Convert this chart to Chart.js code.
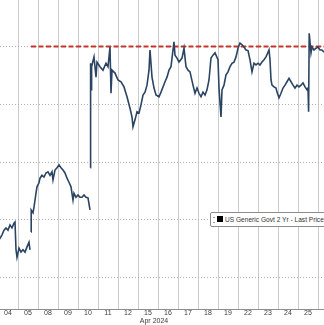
<!DOCTYPE html>
<html>
<head>
<meta charset="utf-8">
<script src="https://cdn.jsdelivr.net/npm/chart.js@4.4.1/dist/chart.umd.min.js"></script>
<style>
  html, body { margin: 0; padding: 0; background: #fff; }
  #wrap { position: relative; width: 324px; height: 325px; overflow: hidden; }
  #legend {
    position: absolute; left: 210px; top: 212px; width: 130px; height: 13px;
    border: 1px solid #8c8c8c; border-radius: 2px; background: #fff;
    font: 6.6px "Liberation Sans", Arial, sans-serif; color: #333;
    line-height: 13px; white-space: nowrap;
  }
  #legend .ico { display: inline-block; width: 2px; height: 4px; margin: 0 2px 0 2px;
    border-top: 1px solid #999; border-bottom: 1px solid #999; vertical-align: middle; }
  #legend .sq { display: inline-block; width: 6px; height: 6px; background: #000;
    margin-right: 2px; vertical-align: middle; position: relative; top: -1px; }
</style>
</head>
<body>
<div id="wrap">
  <canvas id="chart" width="324" height="325"></canvas>
  <div id="legend"><span class="ico"></span><span class="sq"></span>US Generic Govt 2 Yr - Last Price</div>
</div>
<script>
// trading days shown on the axis (April 2024)
var days = ["04", "05", "08", "09", "10", "11", "12", "15", "16", "17", "18", "19", "22", "23", "24", "25", "26"];
var monthLabel = "Apr 2024";

// time in trading days from the start of the 04 session, yield in %
var times = [
  0.05, 0.10, 0.20, 0.30, 0.40, 0.50, 0.60, 0.70, 0.80, 0.85, 0.90, 0.95,
  1.05, 1.15, 1.25, 1.35, 1.45, 1.55, 1.60, 1.62,
  1.65, 1.66, 1.75, 1.80, 1.90, 1.95, 2.05, 2.10, 2.20, 2.30, 2.40, 2.50,
  2.60, 2.70, 2.75, 2.85, 2.95, 3.05, 3.15, 3.25, 3.35, 3.45, 3.55, 3.65,
  3.75, 3.80, 3.90, 4.00, 4.10, 4.20, 4.30, 4.40, 4.50, 4.60, 4.61,
  4.62, 4.63, 4.65, 4.68, 4.80, 4.90, 4.95, 5.10, 5.25, 5.40, 5.50, 5.60,
  5.65, 5.70, 5.85, 6.00, 6.15, 6.30, 6.45, 6.60, 6.70, 6.75, 6.85, 6.95,
  7.05, 7.15, 7.25, 7.35, 7.45, 7.55, 7.60, 7.70, 7.80, 7.90, 8.05, 8.15,
  8.25, 8.35, 8.45, 8.55, 8.65, 8.75, 8.80, 8.85, 8.95, 9.05, 9.20, 9.30,
  9.40, 9.50, 9.60, 9.75, 9.85, 9.95, 10.05, 10.15, 10.25, 10.35, 10.45,
  10.55, 10.65, 10.75, 10.85, 10.90, 11.00, 11.05, 11.15, 11.20, 11.30,
  11.40, 11.50, 11.60, 11.70, 11.80, 11.90, 12.00, 12.10, 12.20, 12.30,
  12.40, 12.50, 12.60, 12.70, 12.80, 12.90, 13.00, 13.10, 13.20, 13.30,
  13.40, 13.50, 13.55, 13.60, 13.65, 13.70, 13.80, 13.90, 13.95, 14.05,
  14.15, 14.25, 14.35, 14.45, 14.55, 14.65, 14.75, 14.85, 14.95, 15.05,
  15.15, 15.25, 15.35, 15.45, 15.50, 15.53, 15.56, 15.65, 15.70, 15.80,
  15.90, 16.00, 16.10, 16.20, 16.30, 16.40
];
var yields = [
  4.665, 4.668, 4.674, 4.682, 4.686, 4.682, 4.691, 4.686, 4.694, 4.696, 4.648, 4.635,
  4.651, 4.644, 4.648, 4.644, 4.653, 4.661, 4.648, null,
  4.679, 4.717, 4.712, 4.722, 4.746, 4.757, 4.764, 4.772, 4.777, 4.774, 4.781, 4.783,
  4.777, 4.783, 4.769, 4.786, 4.790, 4.795, 4.790, 4.786, 4.781, 4.772, 4.765, 4.757,
  4.734, 4.746, 4.739, 4.743, 4.739, 4.739, 4.743, 4.739, 4.738, 4.717, null,
  4.790, 4.971, 4.925, 4.965, 4.982, 4.947, 4.973, 4.965, 4.959, 4.971, 4.965, 4.999,
  4.919, 4.959, 4.954, 4.942, 4.939, 4.930, 4.913, 4.893, 4.878, 4.861, 4.873, 4.887,
  4.885, 4.899, 4.916, 4.921, 4.933, 4.959, 4.994, 4.947, 4.928, 4.916, 4.913, 4.921,
  4.930, 4.939, 4.947, 4.959, 4.965, 4.994, 5.008, 4.985, 4.980, 4.973, 4.980, 4.997,
  4.965, 4.959, 4.956, 4.933, 4.919, 4.928, 4.919, 4.913, 4.921, 4.916, 4.925,
  4.942, 4.980, 4.985, 4.989, 4.985, 4.977, 4.928, 4.878, 4.925, 4.933,
  4.951, 4.956, 4.965, 4.971, 4.973, 4.982, 4.997, 5.006, 5.003, 4.999,
  4.994, 4.993, 4.977, 4.956, 4.971, 4.968, 4.971, 4.968, 4.973, 4.977,
  4.982, 4.990, 4.994, 4.977, 4.942, 4.933, 4.930, 4.928, 4.921, 4.911,
  4.919, 4.928, 4.933, 4.939, 4.945, 4.939, 4.933, 4.928, 4.933, 4.930,
  4.933, 4.937, 4.930, 4.925, 4.928, 4.887, 5.023, 4.989, 4.999, 4.994,
  4.997, 4.999, 4.994, 4.994, 4.990, 4.992
];

// resistance line
var resistanceLevel = 5.00;
var resistanceFrom = 1.65;
var resistanceTo = 16.4;

// y grid levels
var yTicks = [4.6, 4.7, 4.8, 4.9, 5.0];

var xMin = 0.1, xMax = 16.3;

var points = times.map(function (t, i) { return { x: t, y: yields[i] }; });

var font = { family: "'Liberation Sans', Arial, sans-serif", size: 7, lineHeight: 1 };

new Chart("chart", {
  type: "line",
  data: {
    datasets: [{
      label: "US Generic Govt 2 Yr - Last Price",
      data: points,
      borderColor: "#2a4462",
      borderWidth: 1.6,
      pointRadius: 0,
      tension: 0,
      spanGaps: false,
      xAxisID: "x",
      yAxisID: "y"
    }, {
      label: "resistance",
      data: [{ x: resistanceFrom, y: resistanceLevel }, { x: resistanceTo, y: resistanceLevel }],
      borderColor: "#c8342a",
      borderWidth: 2,
      borderDash: [5, 2.5],
      pointRadius: 0,
      xAxisID: "x",
      yAxisID: "y"
    }]
  },
  options: {
    responsive: false,
    animation: false,
    layout: { padding: 0 },
    plugins: { legend: { display: false }, tooltip: { enabled: false } },
    scales: {
      x: {
        type: "linear",
        min: xMin,
        max: xMax,
        afterBuildTicks: function (axis) {
          var t = [];
          for (var i = 1; i <= 16; i++) t.push({ value: i });
          axis.ticks = t;
        },
        grid: { color: "#cccccc", lineWidth: 1, drawTicks: false },
        border: { display: true, color: "#8f8f8f", width: 1 },
        ticks: { display: false }
      },
      xl: {
        type: "linear",
        position: "bottom",
        min: xMin,
        max: xMax,
        afterBuildTicks: function (axis) {
          var t = [];
          for (var i = 0; i < days.length; i++) {
            if (i + 0.5 < xMax) t.push({ value: i + 0.5 });
          }
          axis.ticks = t;
        },
        grid: { display: false, drawTicks: false },
        border: { display: false },
        ticks: {
          autoSkip: false,
          maxRotation: 0,
          padding: 1,
          color: "#3a3a3a",
          font: font,
          callback: function (v) { return days[Math.floor(v)]; }
        }
      },
      xm: {
        type: "linear",
        position: "bottom",
        min: xMin,
        max: xMax,
        afterBuildTicks: function (axis) { axis.ticks = [{ value: 7.8 }]; },
        grid: { display: false, drawTicks: false },
        border: { display: false },
        ticks: {
          autoSkip: false,
          maxRotation: 0,
          padding: 0,
          color: "#3a3a3a",
          font: font,
          callback: function () { return monthLabel; }
        }
      },
      y: {
        type: "linear",
        min: 4.5455,
        max: 5.0805,
        afterBuildTicks: function (axis) {
          axis.ticks = yTicks.map(function (v) { return { value: v }; });
        },
        grid: { color: "#b0b0b0", lineWidth: 1, drawTicks: false },
        border: { display: false, dash: [1, 2] },
        ticks: { display: false }
      }
    }
  }
});
</script>
</body>
</html>
